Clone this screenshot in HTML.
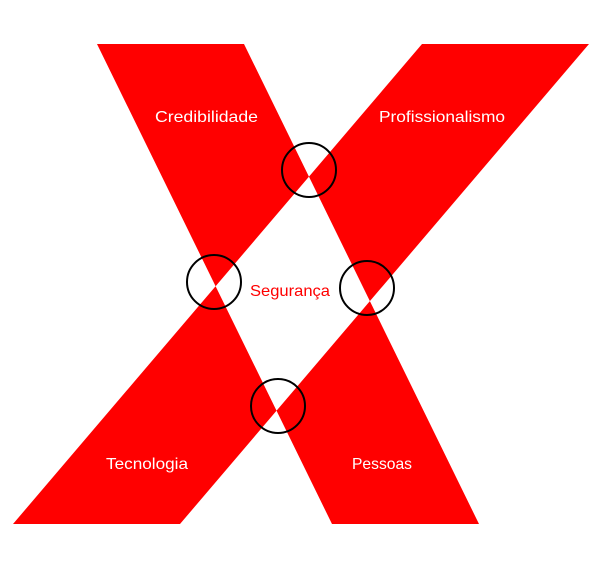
<!DOCTYPE html>
<html><head><meta charset="utf-8"><style>html,body{margin:0;padding:0;background:#fff}svg{display:block}</style></head>
<body>
<svg width="600" height="572" viewBox="0 0 600 572" xmlns="http://www.w3.org/2000/svg">
<path fill="#ff0000" fill-rule="evenodd" d="M97,44 L244,44 L479,524 L332,524 Z M422,44 L589,44 L180,524 L13,524 Z"/>
<g fill="none" stroke="#000" stroke-width="2">
<circle cx="309" cy="170" r="27"/>
<circle cx="214" cy="282" r="27"/>
<circle cx="367" cy="288" r="27"/>
<circle cx="278" cy="406" r="27"/>
</g>
<g font-family="Liberation Sans, sans-serif" font-size="16" fill="#fff">
<text x="155" y="122" textLength="103" lengthAdjust="spacingAndGlyphs">Credibilidade</text>
<text x="379" y="122" textLength="126" lengthAdjust="spacingAndGlyphs">Profissionalismo</text>
<text x="106" y="469" textLength="82" lengthAdjust="spacingAndGlyphs">Tecnologia</text>
<text x="352" y="469" textLength="60" lengthAdjust="spacingAndGlyphs">Pessoas</text>
</g>
<text x="250" y="296" font-family="Liberation Sans, sans-serif" font-size="16" fill="#ff0000" textLength="80" lengthAdjust="spacingAndGlyphs">Segurança</text>
</svg>
</body></html>
